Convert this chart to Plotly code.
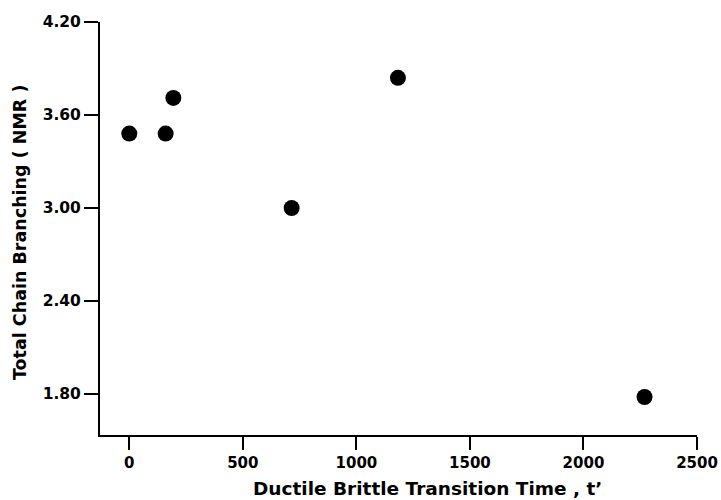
import plotly.graph_objects as go

# Data
transition_time = [0, 160, 194, 715, 1183, 2269]
total_branching = [3.48, 3.48, 3.71, 3.00, 3.84, 1.78]

x_tickvals = [0, 500, 1000, 1500, 2000, 2500]
x_ticktext = ["0", "500", "1000", "1500", "2000", "2500"]
y_tickvals = [1.80, 2.40, 3.00, 3.60, 4.20]
y_ticktext = ["1.80", "2.40", "3.00", "3.60", "4.20"]
x_title = "Ductile Brittle Transition Time , t’"
y_title = "Total Chain Branching ( NMR )"

FONT = "DejaVu Sans"

fig = go.Figure()
fig.add_trace(go.Scatter(
    x=transition_time, y=total_branching, mode="markers",
    marker=dict(size=16, color="black"),
    showlegend=False,
))

fig.update_layout(
    width=721, height=500,
    margin=dict(l=100, r=24, t=22, b=65),
    paper_bgcolor="white", plot_bgcolor="white",
    font=dict(family=FONT, color="black"),
)

fig.update_xaxes(
    range=[-129, 2500],
    tickvals=x_tickvals, ticktext=["<b>%s</b>" % t for t in x_ticktext],
    ticks="outside", ticklen=13, tickwidth=1.5, tickcolor="black",
    showline=True, linewidth=2, linecolor="black",
    showgrid=False, zeroline=False, automargin=False,
    tickfont=dict(size=15, family=FONT),
)
fig.update_yaxes(
    range=[1.535, 4.20],
    tickvals=y_tickvals, ticktext=["<b>%s</b>" % t for t in y_ticktext],
    ticks="outside", ticklen=14, tickwidth=1.5, tickcolor="black",
    showline=True, linewidth=2, linecolor="black",
    showgrid=False, zeroline=False, automargin=False,
    tickfont=dict(size=15.5, family=FONT),
    ticklabelstandoff=0,
)

fig.add_annotation(
    text="<b>%s</b>" % x_title, xref="paper", yref="paper",
    x=0.548, y=0, xanchor="center", yanchor="middle", yshift=-53,
    showarrow=False, font=dict(size=18.5, family=FONT),
)
fig.add_annotation(
    text="<b>%s</b>" % y_title, xref="paper", yref="paper",
    x=0, y=0.489, xanchor="center", yanchor="middle", xshift=-80,
    textangle=-90, showarrow=False, font=dict(size=17.5, family=FONT),
)

fig.write_html(
    "out.html",
    config={"displayModeBar": False},
    post_script="document.body.style.margin='0';document.body.style.overflow='hidden';",
)
